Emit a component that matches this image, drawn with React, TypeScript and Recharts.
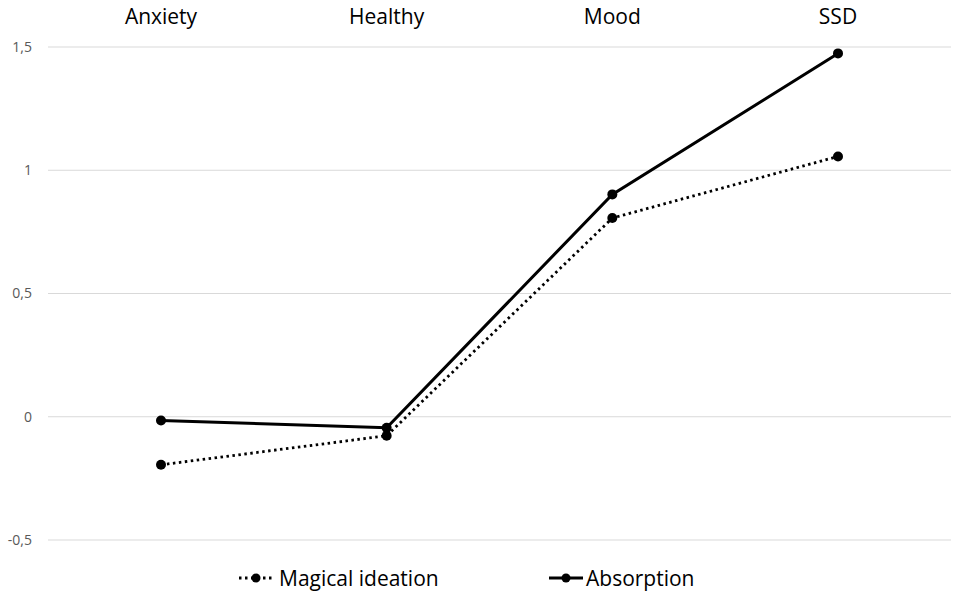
import React from 'react';
import { LineChart, Line, XAxis, YAxis, CartesianGrid, Legend } from 'recharts';

const groups = ['Anxiety', 'Healthy', 'Mood', 'SSD'];
const magicalIdeation = [-0.195, -0.077, 0.806, 1.056];
const absorption = [-0.015, -0.045, 0.902, 1.474];
const yTicks = [-0.5, 0, 0.5, 1, 1.5];

const data = groups.map((g, i) => ({
  group: g,
  magical: magicalIdeation[i],
  absorption: absorption[i],
}));

const FONT = '"Open Sans", sans-serif';

const fmt = (v: number) => String(v).replace('.', ',');

function LegendContent() {
  const items = [
    { label: 'Magical ideation', dash: '2.5 3.5', left: 238, textLeft: 279 },
    { label: 'Absorption', dash: undefined, left: 548, textLeft: 586 },
  ];
  return (
    <div style={{ position: 'relative', height: 30, width: 957 }}>
      {items.map((it) => (
        <div key={it.label}>
          <svg
            width={36}
            height={30}
            style={{ position: 'absolute', left: it.left, top: 0 }}
          >
            <line x1={1} y1={15} x2={35} y2={15} stroke="#000" strokeWidth={2.8} strokeDasharray={it.dash} />
            <circle cx={18} cy={15} r={4.5} fill="#000" />
          </svg>
          <span
            style={{
              position: 'absolute',
              left: it.textLeft,
              top: 0,
              lineHeight: '30px',
              fontFamily: FONT,
              fontSize: 21,
              color: '#000',
              whiteSpace: 'nowrap',
            }}
          >
            {it.label}
          </span>
        </div>
      ))}
    </div>
  );
}

export default function App() {
  return (
    <div style={{ position: 'absolute', left: 0, top: 0, width: 957, height: 594, background: '#fff' }}>
      <LineChart
        width={957}
        height={594}
        data={data}
        margin={{ top: 0, right: 6, left: 0, bottom: 0 }}
      >
        <CartesianGrid vertical={false} stroke="#d9d9d9" strokeWidth={1} />
        <XAxis
          dataKey="group"
          orientation="top"
          height={47}
          axisLine={false}
          tickLine={false}
          tickSize={0}
          tick={{ fill: '#000', fontSize: 21, fontFamily: FONT, dy: -21 }}
          interval={0}
          padding={{ left: 113, right: 113 }}
        />
        <YAxis
          domain={[-0.5, 1.5]}
          ticks={yTicks}
          width={48}
          axisLine={false}
          tickLine={false}
          tickSize={0}
          tickMargin={16}
          tickFormatter={fmt}
          tick={{ fill: '#595959', fontSize: 14, fontFamily: FONT }}
        />
        <Legend
          verticalAlign="bottom"
          height={54}
          content={() => <LegendContent />}
          wrapperStyle={{ left: 0, top: 563, width: 957 }}
        />
        <Line
          dataKey="magical"
          name="Magical ideation"
          stroke="#000"
          strokeWidth={2.8}
          strokeDasharray="2.5 3.5"
          dot={{ r: 5, fill: '#000', stroke: '#000', strokeWidth: 0 }}
          activeDot={false}
          isAnimationActive={false}
        />
        <Line
          dataKey="absorption"
          name="Absorption"
          stroke="#000"
          strokeWidth={3}
          dot={{ r: 5, fill: '#000', stroke: '#000', strokeWidth: 0 }}
          activeDot={false}
          isAnimationActive={false}
        />
      </LineChart>
    </div>
  );
}
